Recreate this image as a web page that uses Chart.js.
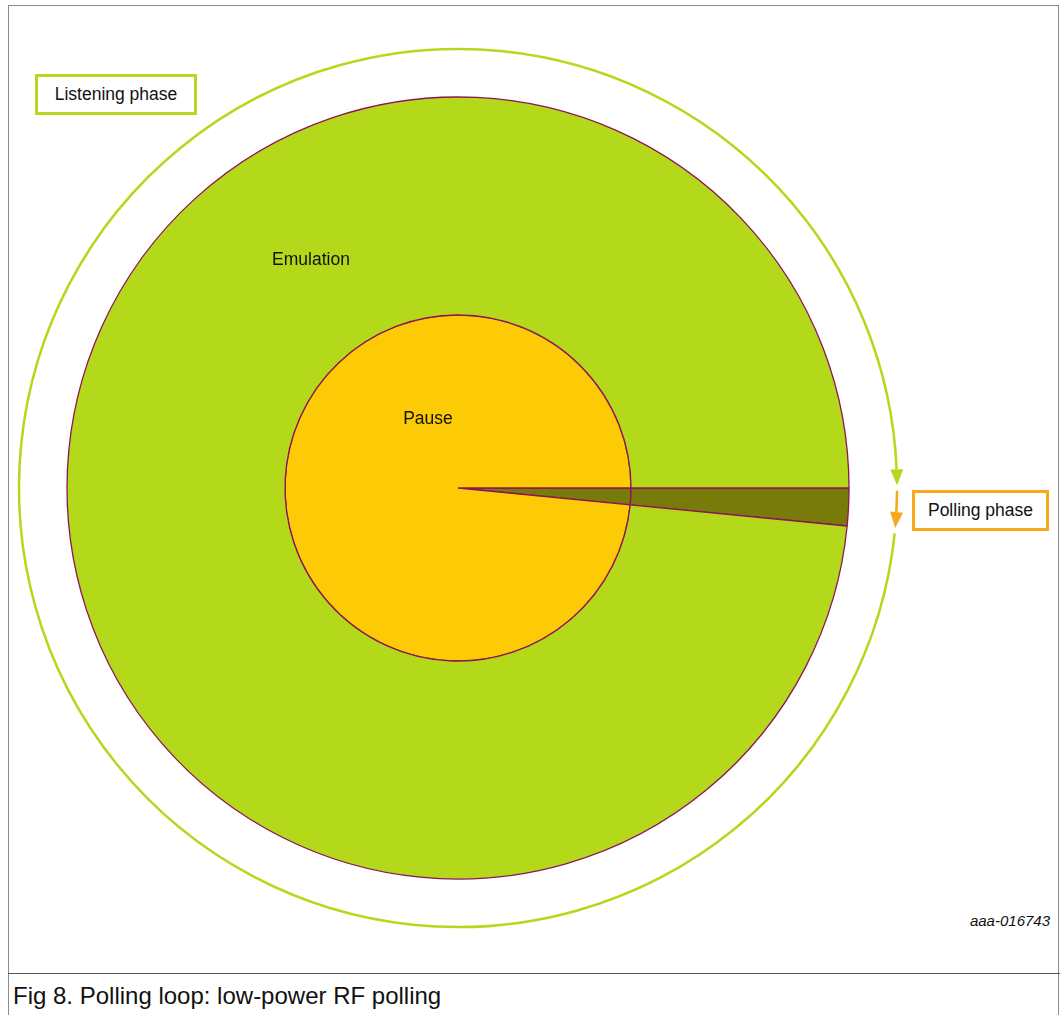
<!DOCTYPE html>
<html>
<head>
<meta charset="utf-8">
<script src="https://cdn.jsdelivr.net/npm/chart.js@4.4.1/dist/chart.umd.min.js"></script>
<style>
  body { margin: 0; background: #fff; font-family: "Liberation Sans", Arial, sans-serif; }
  .frame { position: absolute; left: 8px; top: 5px; width: 1051px; height: 1020px;
           border: 1px solid #8a8a8a; box-sizing: border-box; }
  .sep { position: absolute; left: 8px; top: 973px; width: 1052px; height: 1px; background: #555; }
  .caption { position: absolute; left: 13px; top: 982px; font-size: 24px; line-height: 28px; color: #111; }
  .box { position: absolute; border: 3px solid; box-sizing: border-box; font-size: 17.5px;
         color: #111; display: flex; align-items: center; justify-content: center; background: #fff; }
  .lbl { position: absolute; font-size: 17.5px; color: #111; transform: translate(-50%, -50%); white-space: nowrap; }
  .code { position: absolute; right: 12px; top: 912px; font-size: 15px; font-style: italic; color: #111; }
  #wrap { position: absolute; left: 8px; top: 38px; width: 900px; height: 900px; }
</style>
</head>
<body>
<div class="frame"></div>
<div id="wrap"><canvas id="grafico" width="900" height="900"></canvas></div>
<div class="sep"></div>
<div class="box" style="left:35px;top:74px;width:162px;height:41px;border-color:#b3d91a;">Listening phase</div>
<div class="box" style="left:912px;top:490px;width:137px;height:41px;border-color:#f7a81b;">Polling phase</div>
<div class="lbl" style="left:311px;top:259px;">Emulation</div>
<div class="lbl" style="left:428px;top:418px;">Pause</div>
<div class="code">aaa-016743</div>
<div class="caption">Fig 8. Polling loop: low-power RF polling</div>
<script>
// one loop cycle, in percent of the cycle time
const fases = ['Polling', 'Listening'];
const ciclo = [1.55, 98.45];        // outer arrow ring
const emulacao = [1.55, 98.45];     // polling, emulation
const pausa = [1.55, 98.45];        // polling, pause

const corBorda = '#8e1555';
const corSeta = ['#f7a81b', '#b3d91a'];

// draws the phase arrows along the outer (invisible) ring
const setas = {
  id: 'setas',
  afterDatasetsDraw(chart) {
    const ctx = chart.ctx;
    const arcs = chart.getDatasetMeta(0).data;
    arcs.forEach((arc, i) => {
      const { x, y, startAngle, endAngle, outerRadius } = arc.getProps(['x', 'y', 'startAngle', 'endAngle', 'outerRadius'], true);
      const r = outerRadius - 1;
      const tam = 16, larg = 6.5;
      const fim = endAngle - 0.006;
      const ini = startAngle + 0.006;
      ctx.save();
      ctx.strokeStyle = corSeta[i];
      ctx.fillStyle = corSeta[i];
      ctx.lineWidth = 2.5;
      ctx.beginPath();
      ctx.arc(x, y, r, ini, fim - tam / r);
      ctx.stroke();
      // arrow head, pointing clockwise
      const px = x + r * Math.cos(fim), py = y + r * Math.sin(fim);
      const tx = -Math.sin(fim), ty = Math.cos(fim);
      const bx = px - tx * tam, by = py - ty * tam;
      ctx.beginPath();
      ctx.moveTo(px, py);
      ctx.lineTo(bx + ty * larg, by - tx * larg);
      ctx.lineTo(bx - ty * larg, by + tx * larg);
      ctx.closePath();
      ctx.fill();
      ctx.restore();
    });
  }
};

const grafico = document.getElementById('grafico');
const myChart = new Chart(grafico.getContext('2d'), {
  type: 'pie',
  data: {
    labels: fases,
    datasets: [
      { data: ciclo, weight: 49, backgroundColor: 'rgba(0,0,0,0)', borderWidth: 0 },
      { data: emulacao, weight: 218, backgroundColor: ['#787a0a', '#b3d91a'], borderColor: corBorda, borderWidth: 1.3 },
      { data: pausa, weight: 173, backgroundColor: ['#787a0a', '#fccb06'], borderColor: corBorda, borderWidth: 1.3 }
    ]
  },
  options: {
    responsive: false,
    animation: false,
    rotation: 90,
    radius: 440,
    hoverOffset: 0,
    layout: { padding: 0 },
    plugins: { legend: { display: false }, tooltip: { enabled: false } }
  },
  plugins: [setas]
});
</script>
</body>
</html>
